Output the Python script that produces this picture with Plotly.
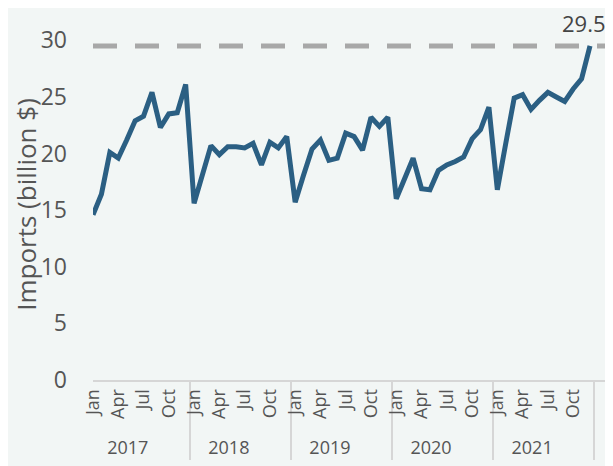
import plotly.graph_objects as go

years = ["2017", "2018", "2019", "2020", "2021"]
months = ["Jan", "Feb", "Mar", "Apr", "May", "Jun",
          "Jul", "Aug", "Sep", "Oct", "Nov", "Dec"]
imports_2017 = [14.6, 16.4, 20.1, 19.6, 21.2, 22.9, 23.3, 25.4, 22.3, 23.5, 23.6, 26.1]
imports_2018 = [15.6, 18.2, 20.7, 19.9, 20.6, 20.6, 20.5, 20.9, 19.0, 21.0, 20.5, 21.5]
imports_2019 = [15.7, 18.1, 20.4, 21.2, 19.4, 19.6, 21.8, 21.5, 20.3, 23.2, 22.4, 23.2]
imports_2020 = [16.0, 17.8, 19.6, 16.9, 16.8, 18.5, 19.0, 19.3, 19.7, 21.3, 22.1, 24.1]
imports_2021 = [16.8, 20.9, 24.9, 25.2, 23.9, 24.7, 25.4, 25.0, 24.6, 25.7, 26.6, 29.5]
reference_level = 29.5
reference_label = "29.5"
y_ticks = [0, 5, 10, 15, 20, 25, 30]

series = [imports_2017, imports_2018, imports_2019, imports_2020, imports_2021]
x_years = [y for y in years for _ in months]
x_months = [m for _ in years for m in months]
values = [v for s in series for v in s]

fig = go.Figure()
fig.add_shape(
    type="line", xref="paper", yref="y", x0=0, x1=1,
    y0=reference_level, y1=reference_level,
    line=dict(color="#a8a8a8", width=5, dash="24px,18px"), layer="below",
)
fig.add_trace(go.Scatter(
    x=[x_years, x_months], y=values, mode="lines",
    line=dict(color="#2b5f83", width=5), hoverinfo="skip", showlegend=False,
))
fig.add_annotation(
    x=len(values) - 1, y=reference_level, xref="x", yref="y",
    text=reference_label, showarrow=False, yanchor="bottom",
    yshift=6, xshift=-6,
    font=dict(size=22, color="#444444"),
)

fig.update_layout(
    width=613, height=466,
    margin=dict(l=85, r=13, t=21, b=94),
    paper_bgcolor="#f2f6f5", plot_bgcolor="#f2f6f5",
    font=dict(family="Open Sans", color="#555555"),
)
fig.update_xaxes(
    type="multicategory", tickmode="linear", tick0=0, dtick=3, automargin=False,
    showgrid=False, showline=True, linecolor="#d6d6d6", linewidth=2,
    showdividers=True, dividercolor="#d6d6d6", dividerwidth=2,
    tickfont=dict(size=18, color="#555555"), tickangle=-90,
)
fig.update_yaxes(
    range=[0, 31], tickvals=y_ticks, showgrid=False, zeroline=False,
    automargin=False, ticklabelstandoff=25,
    showline=False, tickfont=dict(size=23, color="#555555"),
    title=dict(text="Imports (billion $)", standoff=15,
               font=dict(size=26, color="#555555")),
)
fig.write_html("out.html")
